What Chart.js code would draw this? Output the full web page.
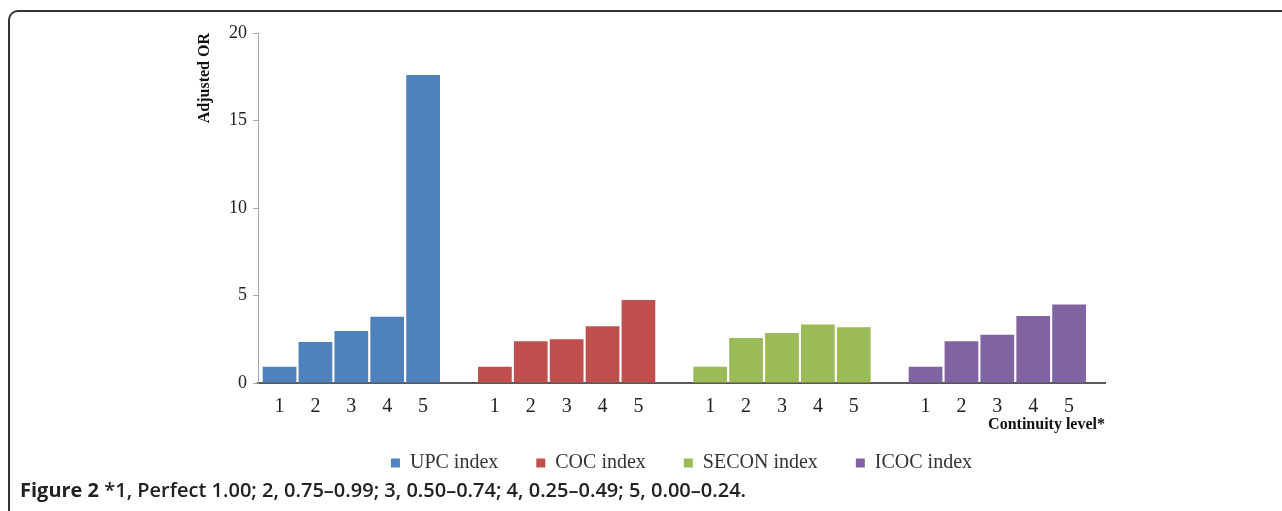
<!DOCTYPE html>
<html>
<head>
<meta charset="utf-8">
<script src="https://cdn.jsdelivr.net/npm/chart.js@4.4.0/dist/chart.umd.min.js"></script>
<style>
  html, body { margin: 0; padding: 0; background: #fff; overflow: hidden; }
  body { width: 1282px; height: 511px; position: relative; }
  .frame {
    position: absolute; left: 8px; top: 10px; width: 1300px; height: 530px;
    border: 2px solid #333; border-radius: 10px; box-sizing: border-box;
  }
  .chart-box { position: absolute; left: 0; top: 0; width: 1282px; height: 492px; }
  .caption {
    position: absolute; left: 20px; top: 476px; white-space: nowrap;
    font-family: "Open Sans", sans-serif; font-size: 20px; color: #222;
    font-weight: 600;
  }
  .caption b { font-weight: 700; }
</style>
</head>
<body>
<div class="frame"></div>
<div class="chart-box"><canvas id="chart"></canvas></div>
<div class="caption"><b>Figure 2</b> *1, Perfect 1.00; 2, 0.75–0.99; 3, 0.50–0.74; 4, 0.25–0.49; 5, 0.00–0.24.</div>

<script>
// continuity levels shown under every group
const levels = ['1', '2', '3', '4', '5'];
const indexNames = ['UPC index', 'COC index', 'SECON index', 'ICOC index'];
const upcValues = [0.93, 2.35, 2.97, 3.78, 17.6];
const cocValues = [0.93, 2.38, 2.5, 3.24, 4.75];
const seconValues = [0.93, 2.57, 2.86, 3.34, 3.19];
const icocValues = [0.93, 2.38, 2.76, 3.83, 4.48];
const yTicks = [0, 5, 10, 15, 20];

const colors = ['#4f81bd', '#c0504d', '#9bbb59', '#8064a2'];
const serif = '"Liberation Serif", "Times New Roman", serif';

// each group takes 5 slots plus one empty slot between groups
const slotsPerGroup = levels.length + 1;
const slotOf = (group, i) => group * slotsPerGroup + i + 1;

const allSeries = [upcValues, cocValues, seconValues, icocValues];
const tickSlots = [];
allSeries.forEach((_, g) => levels.forEach((_, i) => tickSlots.push(slotOf(g, i))));

const datasets = allSeries.map((values, g) => ({
    label: indexNames[g],
    data: values.map((y, i) => ({ x: slotOf(g, i), y: y })),
    backgroundColor: colors[g],
    borderWidth: 0,
    grouped: false,
    categoryPercentage: 1,
    barPercentage: 0.94
}));

new Chart(document.getElementById('chart'), {
    type: 'bar',
    data: { datasets: datasets },
    options: {
        responsive: true,
        maintainAspectRatio: false,
        animation: false,
        layout: { padding: { left: 191, right: 177, top: 33, bottom: 9 } },
        plugins: {
            tooltip: { enabled: false },
            legend: {
                position: 'bottom',
                fullSize: false,
                labels: {
                    boxWidth: 9,
                    boxHeight: 9,
                    padding: 38,
                    color: '#333',
                    font: { family: serif, size: 20 }
                }
            }
        },
        scales: {
            x: {
                type: 'linear',
                offset: false,
                min: 0.4,
                max: 24,
                afterBuildTicks: (axis) => {
                    axis.ticks = tickSlots.map(v => ({ value: v }));
                },
                afterFit: (axis) => { axis.height = 32; },
                grid: { display: false, drawTicks: false },
                border: { display: true, color: '#595959', width: 2 },
                ticks: {
                    padding: 12,
                    color: '#222',
                    autoSkip: false,
                    maxRotation: 0,
                    font: { family: serif, size: 20 },
                    callback: (v) => levels[(v - 1) % slotsPerGroup]
                },
                title: {
                    display: true,
                    text: 'Continuity level*',
                    align: 'end',
                    color: '#111',
                    padding: { top: 0, bottom: -19 },
                    font: { family: serif, size: 16, weight: 'bold' }
                }
            },
            y: {
                min: 0,
                max: 20,
                afterBuildTicks: (axis) => {
                    axis.ticks = yTicks.map(v => ({ value: v }));
                },
                afterFit: (axis) => { axis.width = 67; },
                grid: { drawOnChartArea: false, drawTicks: true, tickLength: 5, color: '#a6a6a6' },
                border: { display: true, color: '#a6a6a6', width: 1 },
                ticks: {
                    padding: 6,
                    color: '#222',
                    font: { family: serif, size: 18 }
                },
                title: {
                    display: true,
                    text: 'Adjusted OR',
                    align: 'end',
                    color: '#111',
                    font: { family: serif, size: 16, weight: 'bold' }
                }
            }
        }
    }
});
</script>
</body>
</html>
